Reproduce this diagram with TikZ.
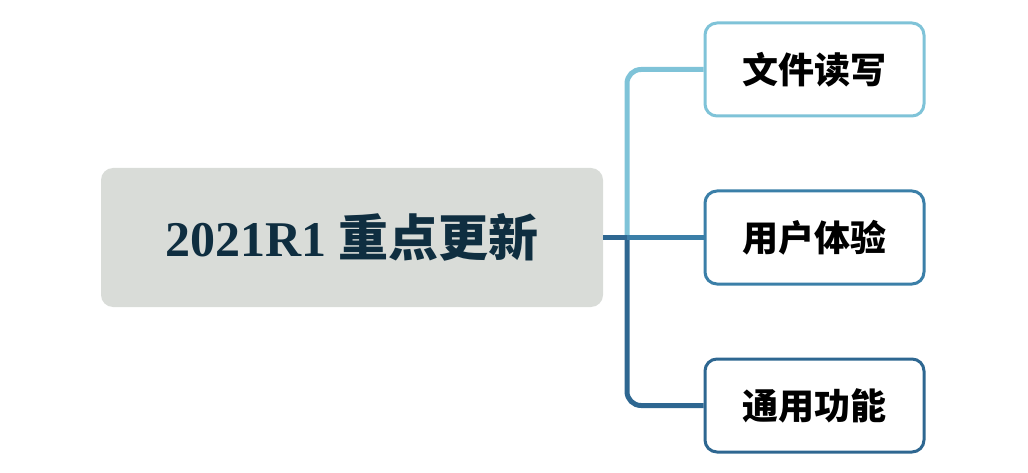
\documentclass[tikz,border=0pt]{standalone}
\usepackage{fontspec}
\setmainfont{Noto Sans CJK SC}
\newfontfamily\rootfont{Liberation Serif}
\usetikzlibrary{positioning}
\definecolor{rootfill}{HTML}{D9DCD8}
\definecolor{roottext}{HTML}{0F2E40}
\definecolor{lightblue}{HTML}{7FC3D8}
\definecolor{midblue}{HTML}{3B7FA8}
\definecolor{darkblue}{HTML}{2E6791}
\tikzset{
  rootbox/.style={fill=rootfill, rounded corners=12pt, minimum width=502pt, minimum height=139pt, inner sep=0pt},
  leafbox/.style={draw=#1, line width=3pt, fill=white, rounded corners=12pt, minimum width=219pt, minimum height=93pt, inner sep=0pt, font=\fontsize{36}{40}\selectfont\bfseries},
  branch/.style={draw=#1, line width=5pt, rounded corners=14pt}
}
\begin{document}
\begin{tikzpicture}[x=1pt,y=-1pt]
  \useasboundingbox (0,0) rectangle (1028,473);
  \node[rootbox] (root) at (352,237.5) {\fontsize{50}{54}\selectfont\bfseries\color{roottext}{\rootfont 2021R1} 重点更新};
  \node[leafbox=lightblue] (read) at (814.5,69.5) {文件读写};
  \node[leafbox=midblue] (user) at (814.5,237.5) {用户体验};
  \node[leafbox=darkblue] (gen) at (814.5,405.5) {通用功能};
  \coordinate (fork) at (627,237.5);
  % connectors
  \path[branch=lightblue] (fork) |- (read.west);
  \path[branch=darkblue] (fork) |- (gen.west);
  \path[branch=darkblue] (root.east) -- (fork);
  \path[branch=midblue] (fork) -- (user.west);
\end{tikzpicture}
\end{document}
